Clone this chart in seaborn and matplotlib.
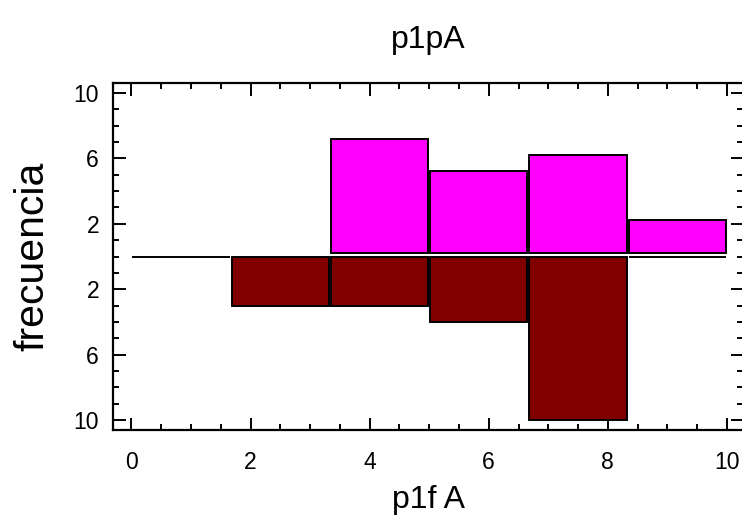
import numpy as np
import pandas as pd
import matplotlib
matplotlib.use("Agg")
import matplotlib.pyplot as plt
from matplotlib.ticker import FixedLocator, MultipleLocator, FuncFormatter
import seaborn as sns

# Six class intervals over [0, 10]
bin_edges = [0.0, 10/6, 20/6, 30/6, 40/6, 50/6, 10.0]
# Frequencies for each class: upper (p1pA) and lower (p1fA) histograms
upper_counts = [0, 0, 7, 5, 6, 2]
lower_counts = [0, 3, 3, 4, 10, 0]

x_ticks = [0, 2, 4, 6, 8, 10]
y_ticks = [-10, -6, -2, 2, 6, 10]

centers = [(a + b) / 2 for a, b in zip(bin_edges[:-1], bin_edges[1:])]
df = pd.DataFrame({
    "centro": centers * 2,
    "peso": upper_counts + [-c for c in lower_counts],
    "grupo": ["p1pA"] * len(centers) + ["p1fA"] * len(centers),
})

sns.set_theme(style="white")
plt.rcParams["font.family"] = ["Liberation Sans", "DejaVu Sans"]

fig = plt.figure(figsize=(7.42, 5.27), dpi=100)
ax = fig.add_axes([113/742, 1 - 430/527, (743 - 113)/742, (430 - 83)/527])

colors = {"p1pA": "#FF00FF", "p1fA": "#800000"}

# lower histogram (drawn with negative weights, so bars hang below zero)
sns.histplot(data=df[df["grupo"] == "p1fA"], x="centro", weights="peso",
             bins=bin_edges, color=colors["p1fA"], alpha=1, edgecolor="black",
             linewidth=1.4, shrink=0.98, ax=ax)
n_lower = len(ax.patches)

# upper histogram
sns.histplot(data=df[df["grupo"] == "p1pA"], x="centro", weights="peso",
             bins=bin_edges, color=colors["p1pA"], alpha=1, edgecolor="black",
             linewidth=1.4, shrink=0.98, ax=ax)

# lift the upper bars a hair off the baseline; empty upper classes are not drawn
for p in ax.patches[n_lower:]:
    if p.get_height() == 0:
        p.set_visible(False)
    else:
        p.set_y(0.2)

ax.set_xlim(-0.31, 10.27)
ax.set_ylim(-10.6, 10.6)

ax.xaxis.set_major_locator(FixedLocator(x_ticks))
ax.xaxis.set_minor_locator(MultipleLocator(0.5))
ax.yaxis.set_major_locator(FixedLocator(y_ticks))
ax.yaxis.set_minor_locator(MultipleLocator(1))
ax.yaxis.set_major_formatter(FuncFormatter(lambda v, p: f"{abs(int(round(v)))}"))

ax.tick_params(which="both", direction="in", top=True, right=True,
               bottom=True, left=True, width=1.4, color="black",
               labelsize=16.5, labelcolor="black")
ax.tick_params(which="major", length=9)
ax.tick_params(axis="x", which="major", pad=15)
ax.tick_params(axis="y", which="major", pad=10)
ax.tick_params(which="minor", length=4.5)

for s in ax.spines.values():
    s.set_visible(True)
    s.set_color("black")
    s.set_linewidth(1.6)

ax.set_title("p1pA", fontsize=23, pad=25, color="black")
ax.set_xlabel("p1f A", fontsize=23, labelpad=8, color="black")
ax.set_ylabel("frecuencia", fontsize=29.5, labelpad=16, color="black")

fig.savefig("out.png", dpi=100)
